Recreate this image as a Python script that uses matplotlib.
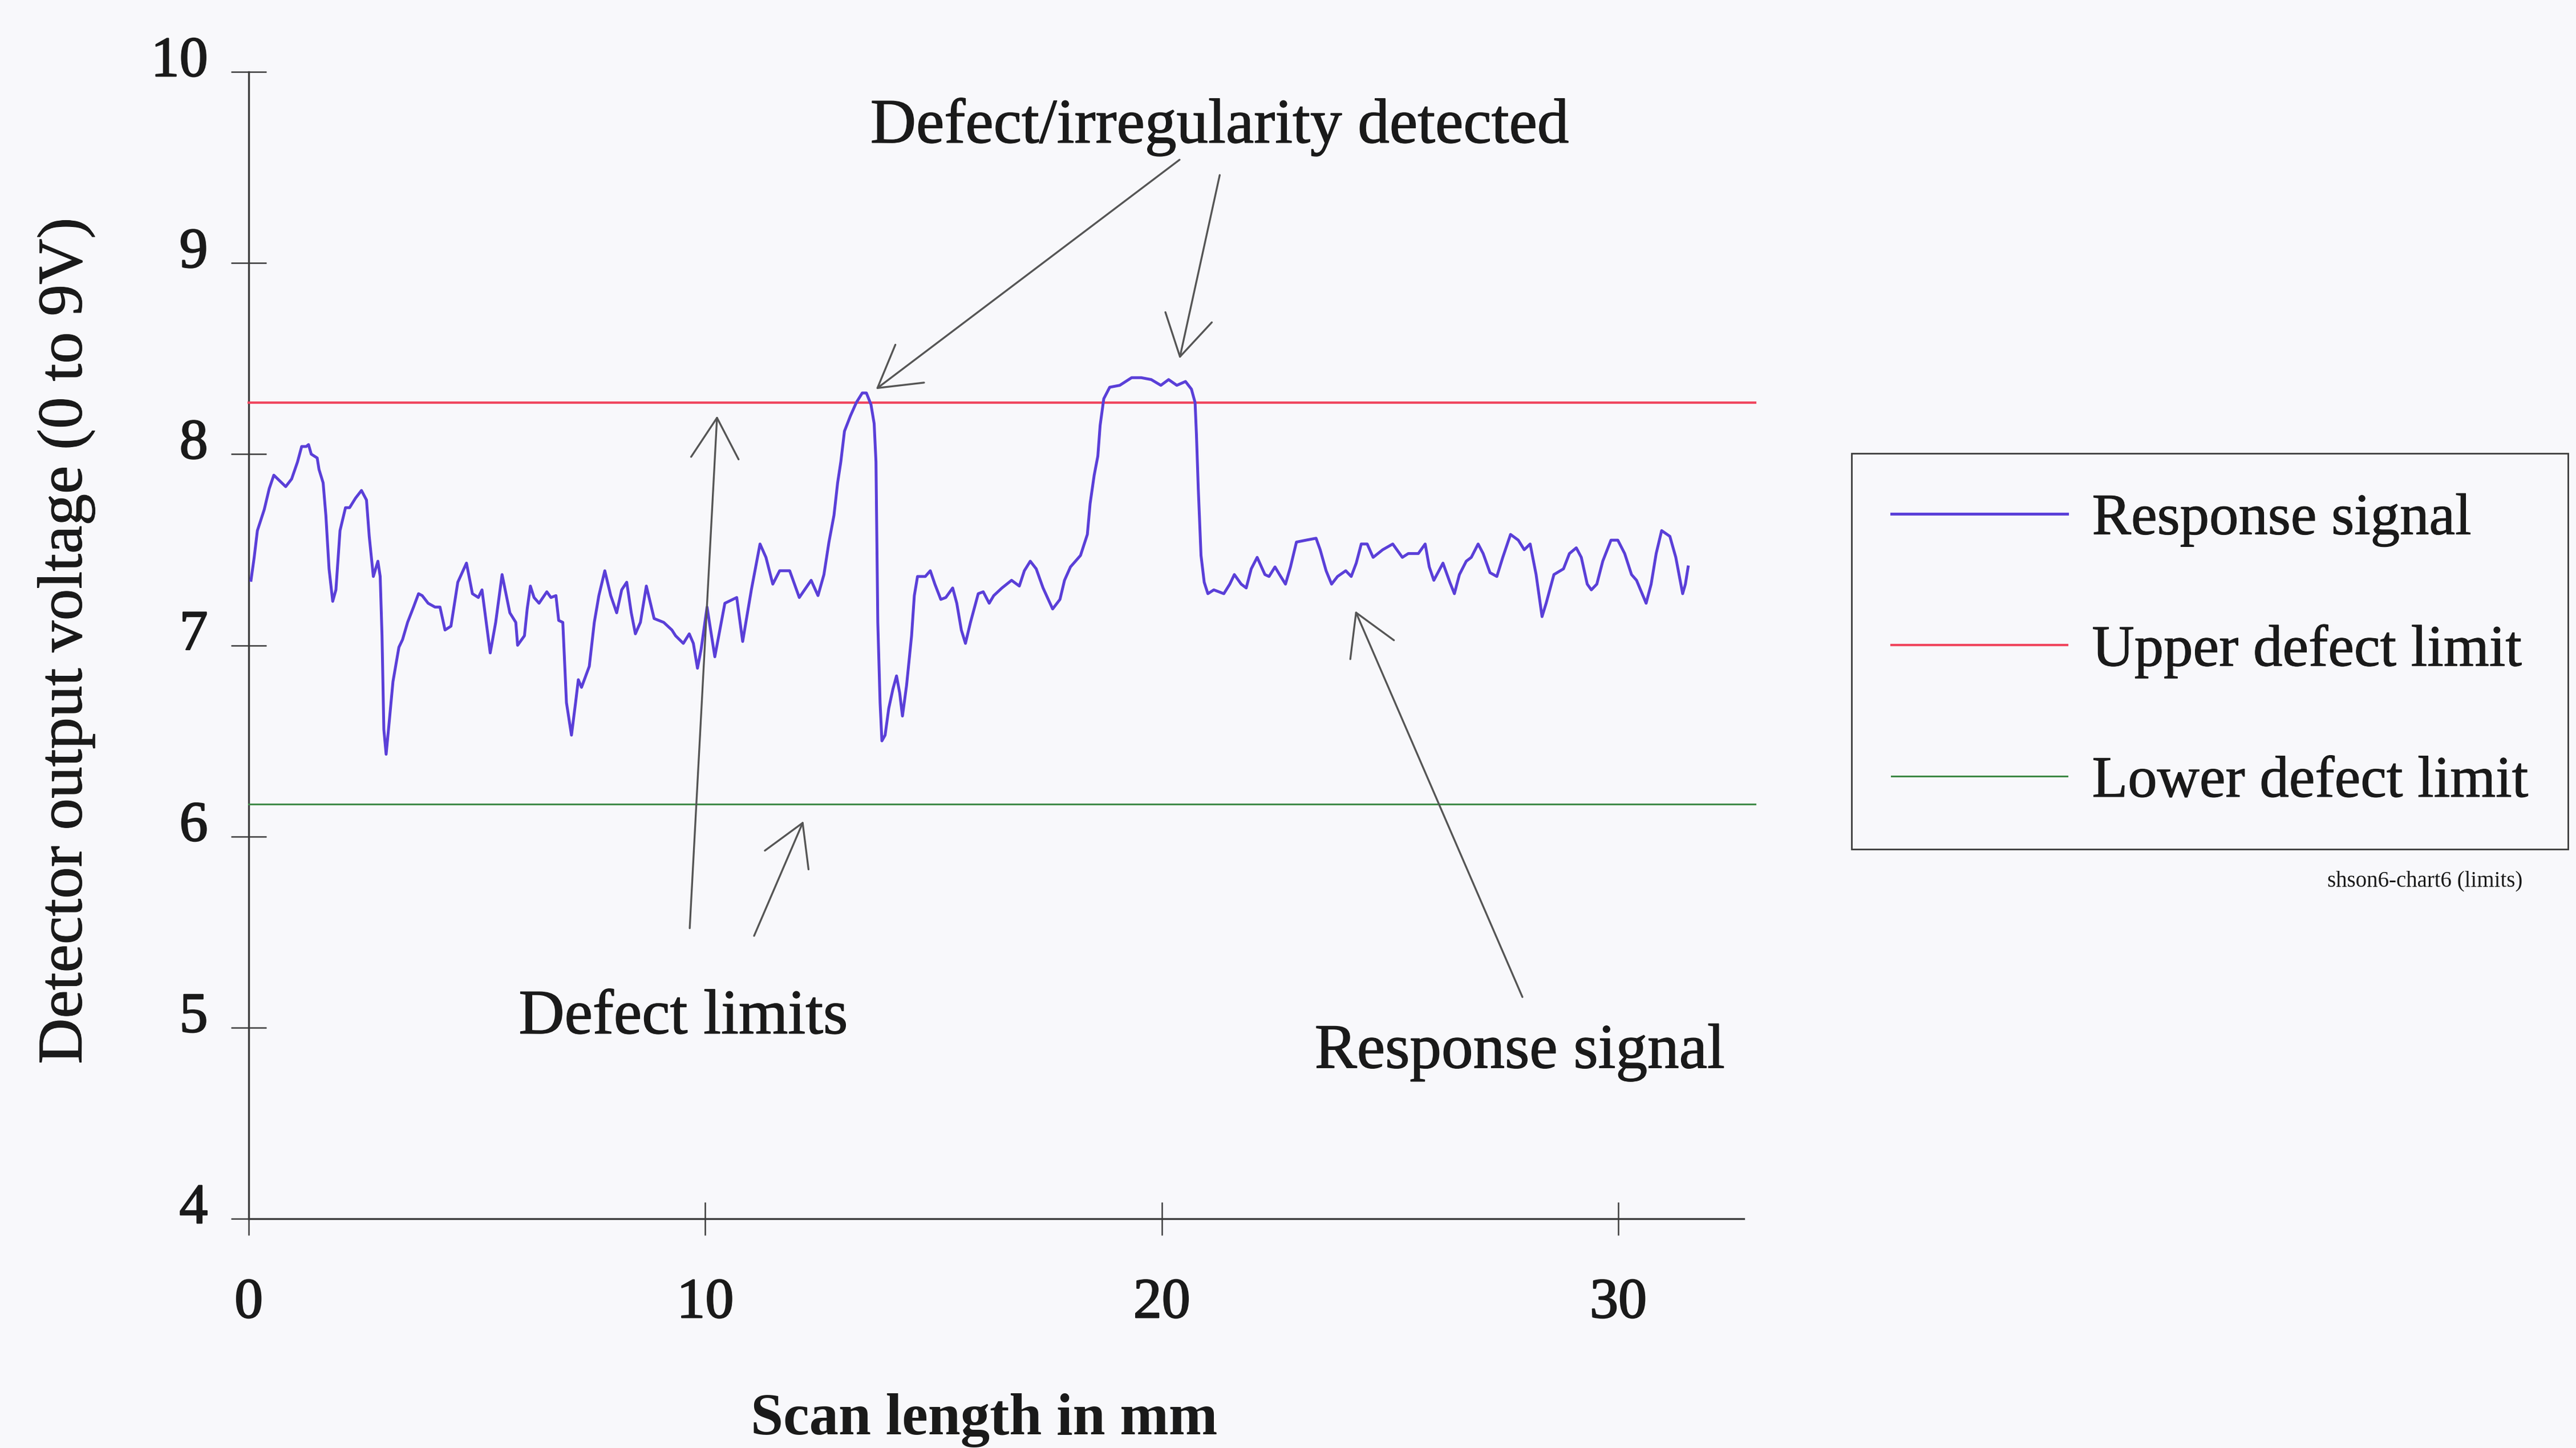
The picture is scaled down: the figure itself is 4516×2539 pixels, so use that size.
import matplotlib
matplotlib.use("Agg")
import matplotlib.pyplot as plt
import matplotlib.patheffects as pe
from matplotlib.transforms import ScaledTranslation

# ---------------------------------------------------------------- data
# Detector response along the scan (mm, volts)
scan_mm = [
    0.05, 0.12, 0.19, 0.34, 0.45, 0.55, 0.68, 0.81, 0.94, 1.07, 1.16, 1.26, 1.31, 1.37, 1.50,
    1.54, 1.63, 1.69, 1.76, 1.84, 1.91, 2.00, 2.12, 2.21, 2.34, 2.47, 2.58, 2.64, 2.73, 2.83,
    2.88, 2.92, 2.96, 3.01, 3.07, 3.16, 3.29, 3.37, 3.48, 3.61, 3.72, 3.80, 3.93, 4.08, 4.19,
    4.30, 4.43, 4.58, 4.77, 4.90, 5.03, 5.11, 5.29, 5.41, 5.55, 5.72, 5.85, 5.89,
    6.04, 6.10, 6.17, 6.25, 6.36, 6.53, 6.62, 6.73, 6.79, 6.88, 6.92, 6.96, 7.07, 7.16, 7.22,
    7.29, 7.46, 7.57, 7.67, 7.80, 7.93, 8.06, 8.17, 8.28, 8.38, 8.47, 8.58, 8.71, 8.88, 9.09,
    9.27, 9.35, 9.52, 9.65, 9.74, 9.83, 9.91, 10.04, 10.21, 10.43, 10.69, 10.82, 11.01, 11.20,
    11.33, 11.48, 11.63, 11.85, 12.06, 12.32, 12.47,
    12.60, 12.71, 12.82, 12.90, 12.97, 13.05, 13.18, 13.31, 13.44, 13.53, 13.63, 13.70, 13.74,
    13.76, 13.78, 13.83, 13.87, 13.94, 14.02, 14.11, 14.19, 14.26, 14.32, 14.41, 14.52, 14.58,
    14.65, 14.82, 14.93, 15.03, 15.16, 15.27, 15.42, 15.51, 15.61, 15.70, 15.81, 15.98, 16.09,
    16.22, 16.32, 16.50, 16.71, 16.88, 16.99, 17.12, 17.25, 17.40, 17.61, 17.77, 17.87, 18.00,
    18.22, 18.37, 18.43, 18.52, 18.60, 18.65, 18.73, 18.86,
    19.08, 19.34, 19.55, 19.77, 19.98, 20.15, 20.33, 20.52, 20.65, 20.73, 20.76, 20.80, 20.86,
    20.93, 21.01, 21.14, 21.36, 21.49, 21.59, 21.74, 21.85, 21.96, 22.09, 22.26, 22.35, 22.48,
    22.58, 22.71, 22.82, 22.95, 23.16, 23.38, 23.47, 23.60, 23.72, 23.85, 24.03, 24.15, 24.26,
    24.37, 24.50, 24.63, 24.84, 25.06, 25.27,
    25.40, 25.62, 25.77, 25.86, 25.96, 26.16, 26.31, 26.41, 26.52, 26.67, 26.78, 26.93, 27.04,
    27.19, 27.34, 27.47, 27.64, 27.81, 27.94, 28.07, 28.20, 28.33, 28.42, 28.59, 28.80, 28.93,
    29.08, 29.19, 29.32, 29.41, 29.53, 29.66, 29.84, 29.99, 30.14, 30.29, 30.40, 30.61, 30.72,
    30.83, 30.95, 31.13, 31.26, 31.41, 31.47, 31.53,
]
response_v = [
    7.34, 7.46, 7.60, 7.71, 7.82, 7.89, 7.86, 7.83, 7.87, 7.96, 8.04, 8.04, 8.05, 8.00, 7.98,
    7.92, 7.85, 7.68, 7.40, 7.23, 7.29, 7.60, 7.72, 7.72, 7.77, 7.81, 7.76, 7.57, 7.36, 7.44,
    7.36, 7.05, 6.56, 6.43, 6.58, 6.81, 6.99, 7.03, 7.12, 7.20, 7.27, 7.26, 7.22, 7.20, 7.20,
    7.08, 7.10, 7.33, 7.43, 7.27, 7.25, 7.29, 6.96, 7.12, 7.37, 7.17, 7.12, 7.00,
    7.05, 7.19, 7.31, 7.25, 7.22, 7.28, 7.25, 7.26, 7.13, 7.12, 6.91, 6.70, 6.53, 6.70, 6.82,
    6.78, 6.89, 7.12, 7.26, 7.39, 7.26, 7.17, 7.29, 7.33, 7.17, 7.06, 7.12, 7.31, 7.14, 7.12,
    7.08, 7.05, 7.01, 7.06, 7.01, 6.88, 6.98, 7.20, 6.94, 7.22, 7.25, 7.02, 7.29, 7.53,
    7.46, 7.32, 7.39, 7.39, 7.25, 7.34, 7.26,
    7.37, 7.54, 7.68, 7.85, 7.96, 8.12, 8.20, 8.27, 8.32, 8.32, 8.26, 8.16, 7.96,
    7.54, 7.12, 6.70, 6.50, 6.53, 6.67, 6.77, 6.84, 6.75, 6.63, 6.79, 7.05, 7.26,
    7.36, 7.36, 7.39, 7.32, 7.24, 7.25, 7.30, 7.22, 7.08, 7.01, 7.12, 7.27, 7.28,
    7.22, 7.26, 7.30, 7.34, 7.31, 7.39, 7.44, 7.40, 7.30, 7.19, 7.24, 7.34, 7.41,
    7.47, 7.58, 7.74, 7.89, 7.99, 8.15, 8.29, 8.35,
    8.36, 8.40, 8.40, 8.39, 8.36, 8.39, 8.36, 8.38, 8.34, 8.27, 8.10, 7.82, 7.47,
    7.33, 7.27, 7.29, 7.27, 7.32, 7.37, 7.32, 7.30, 7.40, 7.46, 7.37, 7.36, 7.41,
    7.37, 7.32, 7.41, 7.54, 7.55, 7.56, 7.50, 7.39, 7.32, 7.36, 7.39, 7.36, 7.43,
    7.53, 7.53, 7.46, 7.50, 7.53, 7.46,
    7.48, 7.48, 7.53, 7.41, 7.34, 7.43, 7.33, 7.27, 7.37, 7.44, 7.46, 7.53, 7.48,
    7.38, 7.36, 7.46, 7.58, 7.55, 7.50, 7.53, 7.37, 7.15, 7.22, 7.37, 7.40, 7.48,
    7.51, 7.46, 7.32, 7.29, 7.32, 7.44, 7.55, 7.55, 7.48, 7.37, 7.34, 7.22, 7.32,
    7.48, 7.60, 7.57, 7.46, 7.27, 7.32, 7.41,
]

# Defect limits
limit_span_mm = [0.0, 33.0]
upper_limit_v = 8.27
lower_limit_v = 6.17

x_ticks = [0, 10, 20, 30]
y_ticks = [4, 5, 6, 7, 8, 9, 10]

series_labels = ["Response signal", "Upper defect limit", "Lower defect limit"]

# ---------------------------------------------------------------- style
plt.rcParams["font.family"] = ["Liberation Serif", "DejaVu Serif"]
BG = "#f8f8fb"
INK = "#1a1a1a"
AXIS = "#3c3c3c"
ARROW = "#555555"
SIGNAL = "#5a3fd8"
UPPER = "#f0475f"
LOWER = "#3f8a48"


def heavy(width):
    return [pe.withStroke(linewidth=width, foreground=INK)]


fig = plt.figure(figsize=(45.16, 25.39), dpi=100, facecolor=BG)
ax = fig.add_axes([0.09655, 0.1583, 0.5804, 0.7921])
ax.set_facecolor("none")
ax.set_xlim(0, 32.75)
ax.set_ylim(4, 10)

for side in ("top", "right"):
    ax.spines[side].set_visible(False)
for side in ("left", "bottom"):
    ax.spines[side].set_color(AXIS)
    ax.spines[side].set_linewidth(2.4)

ax.set_xticks(x_ticks)
ax.set_yticks(y_ticks)
ax.tick_params(axis="x", direction="inout", length=42, width=1.8, color=AXIS,
               pad=54, labelsize=72, labelcolor=INK)
ax.tick_params(axis="y", direction="inout", length=45, width=1.8, color=AXIS,
               pad=29, labelsize=72, labelcolor=INK)

# vertical tick labels sit a little above their ticks
lift = ScaledTranslation(0, 0.27, fig.dpi_scale_trans)
for lab in ax.get_yticklabels():
    lab.set_transform(lab.get_transform() + lift)
for lab in ax.get_xticklabels() + ax.get_yticklabels():
    lab.set_path_effects(heavy(1.6))

# ---------------------------------------------------------------- series
ax.plot(scan_mm, response_v, color=SIGNAL, lw=3.6, label=series_labels[0],
        solid_joinstyle="round", zorder=4)
ax.plot(limit_span_mm, [upper_limit_v, upper_limit_v], color=UPPER, lw=3.0,
        label=series_labels[1], clip_on=False, zorder=3)
ax.plot(limit_span_mm, [lower_limit_v, lower_limit_v], color=LOWER, lw=2.2,
        label=series_labels[2], clip_on=False, zorder=3)

# ---------------------------------------------------------------- axis titles
ax.set_xlabel("Scan length in mm", fontsize=74, fontweight="bold", color=INK)
ax.xaxis.set_label_coords(0.492, -0.152)
ax.set_ylabel("Detector output voltage (0 to 9V)", fontsize=80, color=INK)
ax.yaxis.set_label_coords(-0.103, 0.504)
ax.yaxis.label.set_path_effects(heavy(0.8))

# ---------------------------------------------------------------- callouts
arrow_kw = dict(arrowstyle="->,head_length=0.85,head_width=0.5", color=ARROW,
                lw=2.4, shrinkA=0, shrinkB=0, mutation_scale=60)


def pointer(tail, head):
    ax.annotate("", xy=head, xytext=tail, xycoords="data", textcoords="data",
                arrowprops=arrow_kw, annotation_clip=False, zorder=5)


note_kw = dict(fontsize=80, color=INK, ha="center", va="baseline",
               path_effects=heavy(1.0))

ax.text(21.27, 9.63, "Defect/irregularity detected", **note_kw)
pointer((20.39, 9.54), (13.74, 8.34))
pointer((21.27, 9.46), (20.39, 8.50))

ax.text(9.52, 4.97, "Defect limits", **note_kw)
pointer((9.66, 5.52), (10.26, 8.20))
pointer((11.07, 5.48), (12.15, 6.08))

ax.text(27.84, 4.79, "Response signal", **note_kw)
pointer((27.90, 5.16), (24.24, 7.18))

# ---------------------------------------------------------------- legend
leg = ax.legend(loc="upper left", bbox_to_anchor=(0.7188, 0.687),
                bbox_transform=fig.transFigure, borderaxespad=0,
                fontsize=74, frameon=True, fancybox=False, shadow=False,
                borderpad=0.68, handlelength=3.0, handletextpad=0.42,
                labelspacing=1.32)
frame = leg.get_frame()
frame.set_edgecolor(AXIS)
frame.set_linewidth(2.0)
frame.set_facecolor(BG)
frame.set_alpha(1.0)
for txt in leg.get_texts():
    txt.set_color(INK)
    txt.set_path_effects(heavy(0.8))

fig.text(0.9413, 0.3915, "shson6-chart6 (limits)", fontsize=28, color=INK,
         ha="center", va="center")

fig.savefig("out.png", dpi=100, facecolor=BG)
